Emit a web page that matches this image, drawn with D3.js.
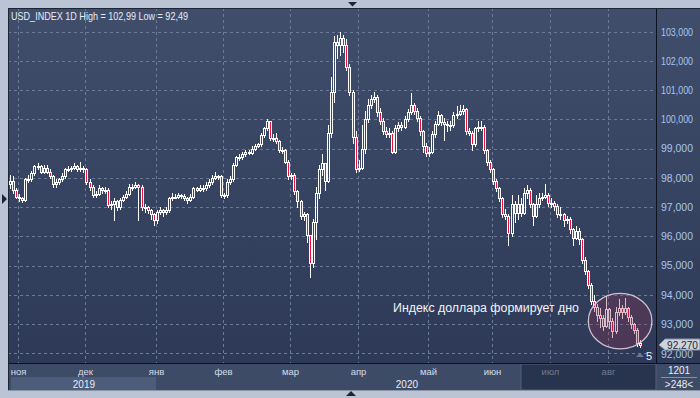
<!DOCTYPE html>
<html><head><meta charset="utf-8">
<script src="https://cdnjs.cloudflare.com/ajax/libs/d3/7.8.5/d3.min.js"></script>
<style>html,body{margin:0;padding:0;background:#bac4d4;overflow:hidden}</style>
</head><body><svg id="c" width="700" height="398"></svg>
<script>
const openV=[97.8,97.9,97.6,97.35,97.3,97.25,97.95,97.95,98.15,98.4,
98.4,98.2,98.35,98.2,98.05,97.8,97.85,97.95,98.05,98.3,
98.3,98.35,98.4,98.3,98.35,98.3,97.85,97.7,97.4,97.45,
97.65,97.6,97.6,97.07,97.1,97.2,97.0,97.25,97.35,97.45,
97.7,97.7,97.75,97.7,97.0,97.0,96.9,96.75,96.55,96.85,
96.9,96.85,96.9,97.3,97.35,97.35,97.4,97.38,97.3,97.25,
97.35,97.65,97.6,97.65,97.65,97.75,97.87,98.0,98.05,98.05,
97.4,97.4,97.85,97.95,98.45,98.7,98.7,98.8,98.9,98.85,
99.0,99.1,99.15,99.45,99.7,99.95,99.35,99.35,99.25,98.95,
98.95,98.55,98.05,98.1,97.55,97.2,96.7,96.75,96.05,95.1,
96.5,97.5,98.3,98.5,97.9,99.55,100.95,102.65,102.55,102.8,
102.55,101.8,100.95,99.4,98.3,98.35,99.0,100.0,100.5,100.7,
100.75,100.25,99.95,99.6,99.5,99.55,98.9,99.7,99.8,99.75,
100.0,100.25,100.5,100.3,100.05,99.6,99.1,98.85,98.9,99.5,
99.85,100.15,99.9,99.85,99.8,99.8,100.15,100.2,100.3,100.35,
99.6,99.55,99.15,99.7,99.75,99.75,98.95,98.55,98.3,97.9,
97.65,97.3,96.75,96.7,96.1,97.1,96.8,97.1,96.8,97.5,
97.6,97.1,96.7,97.1,97.3,97.35,97.4,97.15,97.15,97.05,
96.75,96.75,96.55,96.6,96.25,95.95,96.2,95.9,95.2,94.8,
94.35,93.8,93.6,93.3,93.2,92.95,93.5,93.1,92.75,93.4,
93.55,93.4,93.55,93.25,93.0,92.8,92.35];
const highV=[98.1,98.05,97.65,97.45,97.35,98.0,98.1,98.25,98.45,98.5,
98.45,98.45,98.45,98.3,98.1,97.95,98.0,98.15,98.35,98.4,
98.4,98.5,98.45,98.55,98.4,98.35,97.95,97.75,97.55,97.75,
97.7,97.7,97.65,97.2,97.3,97.25,97.3,97.4,97.55,97.8,
97.8,97.85,97.8,97.75,97.1,97.05,96.95,96.8,96.9,97.0,
96.95,97.0,97.35,97.5,97.45,97.5,97.45,97.45,97.35,97.45,
97.7,97.7,97.75,97.75,97.85,97.95,98.1,98.2,98.1,98.1,
97.5,97.95,98.05,98.5,98.75,98.8,98.9,98.95,98.95,99.1,
99.15,99.2,99.55,99.75,100.0,99.95,99.5,99.55,99.3,99.05,
99.0,98.6,98.15,98.15,97.6,97.25,96.85,96.8,96.05,96.6,
97.7,98.45,98.8,98.5,99.8,101.45,102.85,102.9,102.99,102.9,
102.75,101.9,101.0,99.6,98.6,99.8,100.3,100.7,100.85,100.95,
100.85,100.4,100.05,99.75,99.7,99.6,99.8,99.9,99.9,100.1,
100.35,100.9,100.55,100.4,100.1,99.65,99.2,99.05,99.6,99.95,
100.3,100.2,100.05,99.95,99.95,100.25,100.45,100.5,100.5,100.4,
99.7,99.6,99.75,99.95,99.95,99.8,99.0,98.6,98.35,97.95,
97.7,97.35,96.95,96.75,97.4,97.2,97.4,97.3,97.65,97.75,
97.65,97.15,97.4,97.5,97.5,97.8,97.5,97.3,97.2,97.1,
97.0,96.8,96.7,96.65,96.3,96.35,96.3,95.95,95.3,94.85,
94.4,94.0,93.7,93.55,93.3,93.95,93.55,93.2,93.6,93.85,
93.65,93.9,93.6,93.3,93.05,92.85,92.45];
const lowV=[97.65,97.5,97.3,97.2,97.18,97.2,97.85,97.9,98.1,98.3,
98.15,98.15,98.15,98.0,97.7,97.7,97.8,97.9,98.0,98.25,
98.25,98.3,98.25,98.25,98.2,97.8,97.6,97.35,97.35,97.4,
97.5,97.5,97.0,96.95,96.55,96.9,96.95,97.2,97.3,97.4,
97.6,97.65,96.55,96.9,96.85,96.8,96.6,96.38,96.45,96.75,
96.7,96.75,96.85,97.25,97.3,97.3,97.3,97.25,97.15,97.2,
97.3,97.55,97.55,97.55,97.6,97.7,97.8,97.95,97.95,97.35,
97.3,97.35,97.8,97.9,98.4,98.6,98.65,98.75,98.8,98.8,
98.95,99.05,99.1,99.4,99.65,99.3,99.25,99.2,98.9,98.85,
98.5,97.95,97.95,97.45,97.0,96.6,96.55,95.8,94.6,94.95,
95.9,97.3,98.1,97.6,97.85,99.4,100.6,102.1,102.2,102.3,
101.7,100.85,99.2,98.2,98.25,98.3,98.85,99.9,100.4,100.6,
100.1,99.85,99.5,99.4,99.4,98.85,98.85,99.6,99.65,99.7,
99.95,100.2,100.2,99.95,99.45,98.9,98.75,98.75,98.85,99.4,
99.8,99.8,99.3,99.6,99.65,99.75,100.05,100.15,100.2,99.5,
99.45,98.95,99.1,99.6,99.65,98.85,98.45,98.2,97.8,97.55,
97.2,96.65,96.6,95.7,96.0,96.5,96.6,96.7,96.75,97.3,
97.0,96.4,96.65,97.0,97.25,97.3,97.05,97.0,96.9,96.65,
96.6,96.35,96.45,96.1,95.7,95.9,95.75,95.1,94.7,94.25,
93.7,93.45,93.1,92.9,92.8,92.9,92.85,92.55,92.7,93.3,
93.2,93.35,93.1,92.85,92.7,92.25,92.2];
const closeV=[97.9,97.6,97.35,97.3,97.25,97.95,97.95,98.15,98.4,98.4,
98.2,98.35,98.2,98.05,97.8,97.85,97.95,98.05,98.3,98.3,
98.35,98.4,98.3,98.35,98.3,97.85,97.7,97.4,97.45,97.65,
97.6,97.6,97.07,97.1,97.2,97.0,97.25,97.35,97.45,97.7,
97.7,97.75,97.7,97.0,97.0,96.9,96.75,96.55,96.85,96.9,
96.85,96.9,97.3,97.35,97.35,97.4,97.38,97.3,97.25,97.35,
97.65,97.6,97.65,97.65,97.75,97.87,98.0,98.05,98.05,97.4,
97.4,97.85,97.95,98.45,98.7,98.7,98.8,98.9,98.85,99.0,
99.1,99.15,99.45,99.7,99.95,99.35,99.35,99.25,98.95,98.95,
98.55,98.05,98.1,97.55,97.2,96.7,96.75,96.05,95.1,96.5,
97.5,98.3,98.5,97.9,99.55,100.95,102.65,102.55,102.8,102.55,
101.8,100.95,99.4,98.3,98.35,99.0,100.0,100.5,100.7,100.75,
100.25,99.95,99.6,99.5,99.55,98.9,99.7,99.8,99.75,100.0,
100.25,100.5,100.3,100.05,99.6,99.1,98.85,98.9,99.5,99.85,
100.15,99.9,99.85,99.8,99.8,100.15,100.2,100.3,100.35,99.6,
99.55,99.15,99.7,99.75,99.75,98.95,98.55,98.3,97.9,97.65,
97.3,96.75,96.7,96.1,97.1,96.8,97.1,96.8,97.5,97.6,
97.1,96.7,97.1,97.3,97.35,97.4,97.15,97.15,97.05,96.75,
96.75,96.55,96.6,96.25,95.95,96.2,95.9,95.2,94.8,94.35,
93.8,93.6,93.3,93.2,92.95,93.5,93.1,92.75,93.4,93.55,
93.4,93.55,93.25,93.0,92.8,92.35,92.27];

const monthIdx=[3,25,48,70,92,114,137,158,177,196];
const monthLbl=['ноя','дек','янв','фев','мар','апр','май','июн','июл','авг'];
const dimFromIdx=167;            // bars from here on: dimmed time-axis zone
const yTickVals=[92,93,94,95,96,97,98,99,100,101,102,103];
const yearLbl=['2019','2020'];
const yearStartIdx=[0,48];
const headerText='USD_INDEX 1D High = 102,99 Low = 92,49';
const noteText='Индекс доллара формирует дно';
const lastPrice=92.27;
const circleIdx=[194,205];       // bar range enclosed by the annotation ellipse
const circleVal=[92.15,94.05];

const N=closeV.length;
const svg=d3.select('#c');
const W=700,H=398;
const L=8,T=8,PR=657,PB=363,AB=390;
const x=d3.scaleLinear().domain([0,N-1]).range([10,640]);
const y=d3.scaleLinear().domain([92,103]).range([353.3,31.7]);
const FONT='Liberation Sans, Arial, sans-serif';

const defs=svg.append('defs');
const g=defs.append('linearGradient').attr('id','bg').attr('x1',0).attr('y1',0).attr('x2',0).attr('y2',1);
g.append('stop').attr('offset','0%').attr('stop-color','#404e6b');
g.append('stop').attr('offset','100%').attr('stop-color','#2d3957');
defs.append('clipPath').attr('id','pc').append('rect').attr('x',L).attr('y',T).attr('width',PR-L).attr('height',PB-T);

// outer frame
svg.append('rect').attr('width',W).attr('height',H).attr('fill','#bac4d4');
svg.append('rect').attr('x',L).attr('y',T).attr('width',W-L).attr('height',PB-T).attr('fill','url(#bg)');
svg.append('path').attr('d','M348,2 L357,2 L352.5,6.5 Z').attr('fill','#1c2438');
svg.append('path').attr('d','M346,396 L356,396 L351,391 Z').attr('fill','#1c2438');
svg.append('path').attr('d','M2,194 L7,199 L2,204 Z').attr('fill','#1c2438');

// grid
const grid=svg.append('g').attr('clip-path','url(#pc)');
grid.selectAll('line.h').data(yTickVals).join('line')
  .attr('x1',L).attr('x2',PR).attr('y1',d=>Math.round(y(d))+0.5).attr('y2',d=>Math.round(y(d))+0.5)
  .attr('stroke','#6c7a98').attr('stroke-dasharray','3,3');
grid.selectAll('line.v').data(monthIdx).join('line')
  .attr('y1',T).attr('y2',PB).attr('x1',d=>Math.round(x(d))-0.5).attr('x2',d=>Math.round(x(d))-0.5)
  .attr('stroke','#6c7a98').attr('stroke-dasharray','3,3');

// candles
const cg=svg.append('g').attr('clip-path','url(#pc)');
d3.range(N).forEach(i=>{
  const o=openV[i],c=closeV[i],h=highV[i],l=lowV[i];
  const cx=Math.round(x(i));
  let ty=Math.round(y(Math.max(o,c))), by=Math.round(y(Math.min(o,c)));
  if(by-ty<1) by=ty+1;
  const hy=Math.round(y(h)), ly=Math.round(y(l));
  if(hy<ty) cg.append('line').attr('x1',cx+0.5).attr('x2',cx+0.5).attr('y1',hy).attr('y2',ty).attr('stroke','#fff');
  if(ly>by) cg.append('line').attr('x1',cx+0.5).attr('x2',cx+0.5).attr('y1',by+1).attr('y2',ly+1).attr('stroke','#fff');
  cg.append('rect').attr('x',cx-0.5).attr('y',ty+0.5).attr('width',2).attr('height',by-ty)
    .attr('fill',c<o?'#e8123c':'none').attr('stroke','#fff').attr('stroke-width',1);
});

// annotation ellipse
const ecx=(x(circleIdx[0])+x(circleIdx[1]))/2, ecy=(y(circleVal[0])+y(circleVal[1]))/2;
svg.append('ellipse').attr('cx',ecx).attr('cy',ecy)
  .attr('rx',(x(circleIdx[1])-x(circleIdx[0]))/2+15).attr('ry',(y(circleVal[0])-y(circleVal[1]))/2)
  .attr('fill','rgba(140,50,85,0.32)').attr('stroke','rgba(230,220,230,0.85)').attr('stroke-width',1.3);
svg.append('text').attr('x',393).attr('y',312).text(noteText)
  .attr('fill','#f2f4f8').attr('font-family',FONT).attr('font-size',12.5)
  .attr('textLength',186).attr('lengthAdjust','spacingAndGlyphs');

// header
svg.append('text').attr('x',11).attr('y',19.5).text(headerText)
  .attr('fill','#e6ebf3').attr('font-family',FONT).attr('font-size',10.5)
  .attr('textLength',177).attr('lengthAdjust','spacingAndGlyphs');

// right axis
svg.append('line').attr('x1',PR-0.5).attr('x2',PR-0.5).attr('y1',T).attr('y2',AB).attr('stroke','#0c1220');
svg.selectAll('text.yl').data(yTickVals).join('text')
  .attr('x',661).attr('y',d=>d===yTickVals[0]?y(d)+5:y(d)+3.8).text(d=>d3.format('.3f')(d).replace('.',','))
  .attr('fill','#a6c6ee').attr('font-family',FONT).attr('font-size',10)
  .attr('textLength',32).attr('lengthAdjust','spacingAndGlyphs');
// last price tag
const py=Math.round(y(lastPrice));
svg.append('path').attr('d',`M659,${py} L665,${py-6} L700,${py-6} L700,${py+5} L665,${py+5} Z`)
  .attr('fill','#cfd4dc').attr('stroke','#8792a6');
svg.append('text').attr('x',667).attr('y',py+3.5).text(d3.format('.3f')(lastPrice).replace('.',','))
  .attr('fill','#1d2942').attr('font-family',FONT).attr('font-size',10)
  .attr('textLength',31).attr('lengthAdjust','spacingAndGlyphs');
svg.append('path').attr('d','M636,357 L640,353 L644,357 Z').attr('fill','#6d7a93');
svg.append('text').attr('x',646).attr('y',360).text('5').attr('fill','#f0f3f8')
  .attr('font-family',FONT).attr('font-size',11);

// time axis
svg.append('rect').attr('x',L).attr('y',PB).attr('width',PR-L).attr('height',AB-PB).attr('fill','#3d4b67');
svg.append('rect').attr('x',PR).attr('y',PB).attr('width',W-PR).attr('height',AB-PB).attr('fill','#3d4b67');
svg.append('rect').attr('x',Math.round(x(dimFromIdx))).attr('y',PB+1).attr('width',PR-1-Math.round(x(dimFromIdx))).attr('height',AB-PB-1)
  .attr('fill','#28334d').attr('stroke','#53617e');
svg.append('line').attr('x1',L).attr('x2',W).attr('y1',PB+0.5).attr('y2',PB+0.5).attr('stroke','#0c1220');
svg.append('line').attr('x1',L+0.5).attr('x2',L+0.5).attr('y1',T).attr('y2',AB).attr('stroke','#1c2438');
svg.append('line').attr('x1',L).attr('x2',W).attr('y1',T+0.5).attr('y2',T+0.5).attr('stroke','#1c2438');
svg.append('line').attr('x1',L).attr('x2',W).attr('y1',AB+0.5).attr('y2',AB+0.5).attr('stroke','#8a95a8');
svg.append('rect').attr('x',11).attr('y',377).attr('width',Math.round(x(yearStartIdx[1]))-12).attr('height',13).attr('fill','#4c5c7a');
const yearX=[(11+x(yearStartIdx[1]))/2,(x(yearStartIdx[1])+PR)/2];
svg.selectAll('text.yr').data(yearLbl).join('text')
  .attr('x',(d,i)=>yearX[i]).attr('y',388).attr('text-anchor','middle').text(d=>d)
  .attr('fill','#e8edf5').attr('font-family',FONT).attr('font-size',10);
svg.selectAll('text.mo').data(monthIdx).join('text')
  .attr('x',d=>Math.round(x(d))-0.5).attr('y',375).attr('text-anchor','middle').text((d,i)=>monthLbl[i])
  .attr('fill',d=>d>=dimFromIdx?'#6e7c97':'#d3ddea').attr('font-family',FONT).attr('font-size',9.5);
svg.append('line').attr('x1',661).attr('x2',697).attr('y1',377.5).attr('y2',377.5).attr('stroke','#8390a8');
svg.append('text').attr('x',679).attr('y',374).attr('text-anchor','middle').text('1201')
  .attr('fill','#e8edf5').attr('font-family',FONT).attr('font-size',10);
svg.append('text').attr('x',679).attr('y',388).attr('text-anchor','middle').text('>248<')
  .attr('fill','#e8edf5').attr('font-family',FONT).attr('font-size',10);
</script></body></html>
